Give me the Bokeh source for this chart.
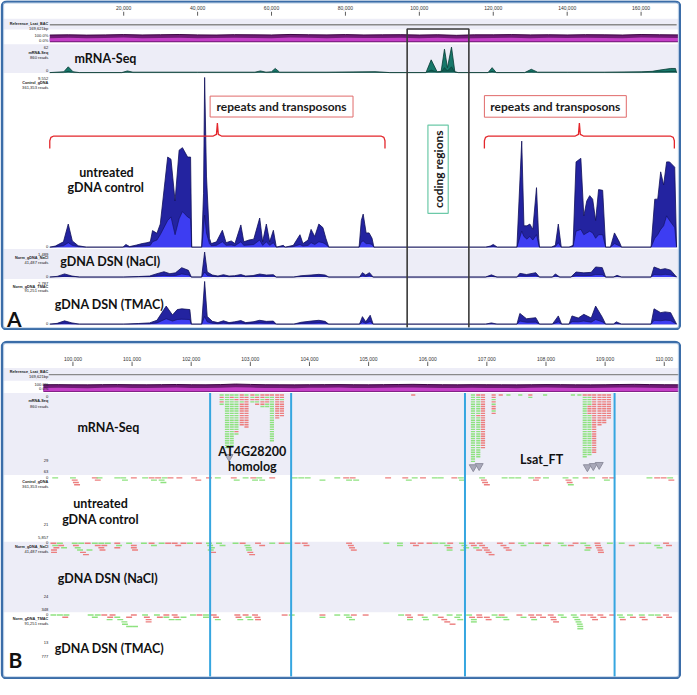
import math
from bokeh.plotting import figure
from bokeh.models import Range1d
from bokeh.layouts import column
from bokeh.embed import file_html
from bokeh.resources import INLINE
from bokeh.core.properties import value

# ======================= DATA =======================
# ---- Panel A : whole BAC, positions in kb ----
bac_length_kb = 169.621
A_tick_kb = [20, 40, 60, 80, 100, 120, 140, 160]
A_tick_labels = ["20,000", "40,000", "60,000", "80,000", "100,000", "120,000", "140,000", "160,000"]

purpleA_kb = [0, 5, 10, 15, 20, 25, 30, 35, 40, 45, 50, 55, 60, 65, 70, 75, 80, 85,
              90, 95, 100, 105, 110, 115, 120, 125, 130, 135, 140, 145, 150, 155, 160, 165, 170]
purpleA_top = [97, 100, 96, 99, 103, 98, 101, 104, 99, 97, 102, 100, 98, 105, 101, 99, 103, 98,
               100, 102, 97, 101, 93, 100, 100, 103, 99, 101, 98, 102, 100, 97, 104, 101, 99]
purpleA_mid = [55, 60, 52, 58, 62, 55, 57, 61, 54, 56, 60, 58, 53, 63, 59, 55, 61, 57,
               58, 60, 54, 59, 50, 52, 58, 61, 55, 59, 56, 60, 58, 54, 62, 59, 57]

# (kb, total coverage, inner coverage)
mrnaA = [(0, 0, 0), (3.8, 2, 0), (5.0, 14, 3), (6.3, 2, 0), (8, 0, 0), (19.5, 0, 0), (21, 4, 1),
         (22.5, 1, 0), (40, 1, 0), (55.5, 1, 0), (57, 4, 1), (58.5, 1, 0), (60, 2, 0), (61, 10, 2),
         (62.2, 1, 0), (75, 1, 0), (88, 2, 1), (92, 0, 0), (101.8, 0, 0), (103.2, 31, 6),
         (104.8, 2, 1), (105.9, 3, 1), (106.8, 57, 12), (107.6, 12, 4), (108.7, 62, 14),
         (109.6, 2, 1), (110.5, 0, 0), (118.6, 0, 0), (119.7, 12, 3), (120.8, 0, 0), (128.5, 0, 0),
         (130.3, 8, 2), (132, 1, 0), (140, 1, 0), (150, 1, 0), (160, 2, 0), (163, 3, 1),
         (165, 6, 2), (166.5, 8, 2), (168, 10, 3), (169.3, 10, 3), (169.6, 0, 0)]

ctrlA = [(0, 0, 0), (1.5, 60, 20), (3.7, 300, 80), (5.0, 1300, 250), (6.1, 350, 100), (7.7, 80, 30),
         (9.9, 0, 0), (19.8, 0, 0), (20.6, 150, 40), (21.6, 30, 10), (23.5, 120, 40), (25.0, 200, 60),
         (26.3, 250, 80), (27.2, 300, 100), (27.8, 930, 300), (29.0, 780, 400), (29.9, 1300, 700),
         (31.9, 5070, 1500), (32.8, 4950, 1700), (33.9, 2600, 700), (35.0, 5460, 1600),
         (35.9, 5600, 2000), (37.3, 5070, 1700), (38.1, 5070, 1600), (38.4, 0, 0), (41.1, 0, 0),
         (41.6, 3000, 1000), (41.9, 9552, 1800), (42.4, 4000, 800), (43.2, 500, 200), (43.7, 200, 80),
         (45.1, 300, 100), (46.7, 950, 300), (47.7, 250, 100), (49.1, 350, 120), (50.1, 200, 80),
         (51.7, 1250, 300), (52.5, 300, 100), (53.9, 400, 120), (55.2, 450, 150), (56.8, 1640, 400),
         (57.6, 300, 100), (58.6, 1300, 300), (59.5, 300, 100), (60.5, 950, 250), (61.3, 0, 0),
         (63.2, 100, 30), (63.7, 0, 0), (65.9, 100, 30), (67.7, 700, 150), (68.5, 200, 60),
         (69.9, 400, 100), (70.7, 1000, 250), (71.7, 600, 150), (72.8, 1300, 300), (73.9, 1100, 250),
         (74.7, 500, 150), (75.5, 0, 0), (83.7, 0, 0), (84.3, 1500, 300), (84.8, 1860, 350),
         (85.6, 800, 200), (86.4, 800, 200), (87.2, 500, 150), (87.7, 0, 0), (117.9, 0, 0),
         (119.2, 60, 20), (120.0, 150, 40), (121.1, 0, 0), (126.4, 0, 0), (127.7, 5970, 900),
         (128.3, 1200, 600), (129.1, 1200, 450), (129.9, 1300, 600), (130.7, 1000, 400),
         (131.7, 3350, 700), (132.3, 500, 150), (132.5, 0, 0), (135.7, 0, 0), (136.8, 100, 30),
         (137.6, 1300, 250), (138.4, 0, 0), (140.5, 0, 0), (141.6, 100, 40), (142.4, 4800, 900),
         (143.7, 5000, 1000), (144.5, 1760, 700), (145.3, 2600, 800), (146.1, 2900, 900),
         (146.9, 2700, 800), (147.7, 1500, 500), (148.5, 3240, 700), (149.6, 3200, 700),
         (150.4, 0, 0), (151.7, 0, 0), (152.8, 800, 200), (154.1, 300, 80), (154.7, 0, 0),
         (162.7, 0, 0), (163.7, 2700, 500), (164.5, 2700, 700), (165.3, 4240, 1000),
         (166.1, 3500, 1200), (166.9, 4800, 1760), (167.7, 4800, 1500), (169.1, 4500, 1100),
         (169.6, 0, 0)]

naclA = [(0, 0, 0), (2.0, 40, 10), (4.0, 186, 40), (6.0, 60, 20), (8.0, 0, 0), (20, 0, 0), (24, 30, 10),
         (27, 60, 20), (29, 200, 60), (30.9, 316, 100), (32.5, 200, 80), (34, 250, 90), (35.7, 558, 180),
         (37.5, 400, 130), (38.3, 0, 0), (41.1, 0, 0), (41.9, 1489, 300), (42.6, 300, 100),
         (44, 120, 40), (45.5, 60, 20), (47, 140, 50), (48.5, 60, 20), (50, 80, 30), (51.7, 150, 50),
         (53, 60, 20), (55, 90, 30), (56.8, 180, 60), (58.6, 120, 40), (60.5, 140, 50), (61.3, 0, 0),
         (66, 0, 0), (68, 80, 25), (70.7, 120, 40), (72.8, 160, 50), (74.5, 120, 40), (75.5, 0, 0),
         (83.8, 0, 0), (84.6, 260, 80), (85.5, 120, 40), (86.5, 260, 80), (87.5, 0, 0), (117.9, 0, 0),
         (119.5, 130, 40), (121, 0, 0), (126.4, 0, 0), (127.2, 220, 70), (129, 150, 50),
         (131.5, 260, 80), (132.5, 0, 0), (136, 0, 0), (136.8, 186, 60), (138, 0, 0), (141, 0, 0),
         (142.4, 300, 90), (144.5, 250, 80), (146.5, 280, 90), (147.7, 600, 150), (149.5, 560, 140),
         (150.4, 0, 0), (152.5, 0, 0), (153.5, 100, 30), (154.7, 0, 0), (162.7, 0, 0),
         (163.5, 600, 150), (165.3, 446, 130), (166.5, 500, 160), (168.0, 410, 130), (169.6, 0, 0)]

tmacA = [(0, 0, 0), (2.0, 50, 15), (4.0, 214, 60), (6.0, 80, 25), (8.0, 0, 0), (20, 0, 0), (24, 40, 10),
         (27, 80, 25), (29, 250, 80), (31.5, 1180, 350), (33.2, 600, 200), (34.5, 950, 300),
         (35.7, 1000, 320), (37.9, 950, 300), (38.3, 0, 0), (41.1, 0, 0), (41.9, 2787, 500),
         (42.6, 500, 150), (44, 180, 60), (45.5, 100, 30), (47, 220, 70), (48.5, 100, 30),
         (50, 150, 50), (51.7, 230, 70), (53, 100, 30), (55, 150, 50), (56.8, 250, 80),
         (58.6, 180, 60), (60.5, 200, 60), (61.3, 0, 0), (66, 0, 0), (68, 120, 40), (70.7, 200, 60),
         (72.8, 250, 80), (74.5, 180, 60), (75.5, 0, 0), (83.8, 0, 0), (84.6, 490, 150),
         (85.5, 150, 50), (86.7, 580, 170), (87.5, 0, 0), (117.9, 0, 0), (119.5, 80, 25), (121, 0, 0),
         (126.4, 0, 0), (127.2, 700, 200), (129, 350, 120), (131.5, 420, 130), (132.5, 0, 0),
         (136, 0, 0), (137.6, 535, 150), (138.5, 0, 0), (140.5, 0, 0), (141.3, 535, 160),
         (143, 400, 150), (144.5, 640, 200), (146.5, 400, 130), (147.7, 1180, 300), (149.5, 450, 150),
         (150.4, 0, 0), (152.5, 0, 0), (153.3, 150, 40), (154.7, 0, 0), (162.7, 0, 0),
         (163.5, 1000, 250), (165.3, 750, 220), (166.5, 800, 260), (168.0, 750, 230), (169.6, 0, 0)]

repeat_regions_kb = [(0.0, 90.7), (117.6, 169.0)]
coding_region_kb = (96.7, 113.4)

# ---- Panel B : zoom 99.6 - 110.2 kb, positions in bp ----
B_tick_bp = [100000, 101000, 102000, 103000, 104000, 105000, 106000, 107000, 108000, 109000, 110000]
B_tick_labels = ["100,000", "101,000", "102,000", "103,000", "104,000", "105,000",
                 "106,000", "107,000", "108,000", "109,000", "110,000"]

purpleB_bp = [99500 + 250 * i for i in range(45)]
purpleB_top = [99, 100, 98, 97, 100, 101, 99, 98, 100, 102, 99, 98, 101, 108, 103, 99, 98, 97, 99, 100,
               101, 99, 98, 100, 102, 104, 101, 99, 98, 100, 99, 98, 97, 99, 101, 100, 98, 97, 99, 102,
               104, 101, 99, 98, 100]
purpleB_mid = [55, 58, 54, 52, 57, 60, 56, 53, 58, 61, 55, 54, 59, 66, 60, 56, 53, 52, 57, 58,
               60, 55, 54, 58, 61, 63, 59, 55, 53, 58, 56, 54, 52, 57, 60, 58, 54, 53, 57, 61,
               63, 59, 56, 54, 57]

gene_bounds_bp = [102320, 103690, 106630, 109160]

# mRNA-Seq read stacks: (start bp, strand of each row top->bottom)
mrna_stacks = [
    (102480, "grgrg"), (102570, "gggggggggggggggggggggggg"), (102650, "grggggggggggggggggggggg"),
    (102730, "ggrgggggggggggggrg"), (102820, "rrrgrrrrrrrrrr"), (102900, "grrrrrrrrrrrrrr"),
    (103000, "rgrg"), (103080, "grrgr"), (103170, "rrgrrg"), (103250, "rgrrgg"),
    (103330, "rgggggggggggggggggggg"), (103420, "rrrrrrrrrrr"), (103500, "rrgrrrrrrr"),
    (105720, "r"),
    (106730, "gggggggggggggggggggggggggggggg"), (106820, "rggggggggrgggggggggggggggggg"),
    (106900, "rrrrrrrrrrrrrrrrrrrrrrrr"), (107080, "rrgrgrrgr"), (107200, "r"), (107330, "g"),
    (107530, "g"), (107700, "rg"), (107950, "g"), (108420, "g"), (108530, "g"),
    (108620, "rggggggggggggggggggggggggggg"), (108700, "rggggrrrrgggggggggggggggggg"),
    (108780, "rrrrrrrrrrrrrrrrrrrrrrrrrr"), (108870, "rrrrrrrrrrrrrr"), (108950, "rrrrrrrrrrrrr"),
    (109030, "rrrrrrrrrrr")]
mrna_arrows = [(102640, 27), (106770, 31.5), (106870, 31), (108700, 31.5), (108800, 31), (108900, 30.5)]

# gDNA reads: (start bp, row, strand)
ctrlB_reads = [
    (99650, 0, "g"), (99950, 0, "g"), (99980, 1, "r"), (100000, 2, "r"), (100020, 3, "r"),
    (100320, 0, "r"), (100400, 0, "g"), (100370, 1, "r"), (100700, 0, "g"), (100800, 0, "g"),
    (100830, 1, "g"), (100980, 0, "r"), (101170, 0, "g"), (101280, 0, "r"), (101320, 1, "g"),
    (101390, 0, "r"), (101500, 0, "g"), (101450, 1, "g"), (101480, 2, "g"), (101600, 0, "r"),
    (101750, 0, "r"), (102000, 0, "r"), (102070, 1, "r"), (102250, 0, "r"), (102400, 0, "g"),
    (102670, 0, "r"), (102720, 1, "g"), (102870, 0, "g"), (103000, 0, "r"), (103030, 1, "g"),
    (103100, 0, "g"), (103150, 1, "g"), (103320, 0, "r"), (103700, 0, "g"), (103810, 0, "g"),
    (103920, 0, "g"), (104170, 1, "g"), (104420, 0, "g"), (104570, 0, "r"), (104620, 1, "g"),
    (104680, 0, "r"), (104740, 1, "g"), (105280, 0, "r"), (105570, 0, "r"), (105630, 1, "g"),
    (105730, 0, "g"), (105870, 0, "r"), (106070, 0, "g"), (106170, 0, "g"), (106400, 0, "r"),
    (106510, 0, "g"), (106530, 1, "g"), (106870, 0, "g"), (106900, 1, "r"), (106920, 2, "r"),
    (106950, 3, "r"), (107250, 0, "g"), (107370, 0, "g"), (107480, 0, "g"), (107700, 0, "g"),
    (107810, 0, "r"), (107780, 1, "r"), (107950, 0, "g"), (108280, 0, "g"), (108330, 1, "r"),
    (108350, 2, "r"), (108370, 3, "g"), (108450, 0, "g"), (108620, 0, "r"), (108730, 0, "g"),
    (108950, 0, "r"), (109070, 0, "r"), (108980, 1, "g"), (109700, 0, "g"), (109830, 0, "r"),
    (109940, 0, "r"), (110050, 0, "g"), (110070, 1, "r")]

naclB_reads = [
    (99620, 0, "r"), (99650, 1, "g"), (99670, 2, "r"), (99630, 3, "r"), (99630, 4, "r"),
    (99730, 0, "g"), (99750, 1, "r"), (99800, 2, "g"), (99980, 0, "g"), (100000, 1, "r"),
    (100030, 2, "g"), (100090, 0, "g"), (100070, 3, "g"), (100120, 4, "r"), (100170, 5, "r"),
    (100230, 3, "g"), (100200, 0, "r"), (100320, 0, "g"), (100370, 1, "r"), (100430, 0, "g"),
    (100480, 1, "r"), (100430, 2, "r"), (100450, 3, "r"), (100540, 0, "g"), (100700, 0, "r"),
    (100730, 1, "g"), (100700, 2, "r"), (100900, 0, "g"), (100980, 1, "r"), (100980, 2, "r"),
    (101000, 3, "r"), (101150, 0, "g"), (101280, 0, "r"), (101320, 1, "g"), (101450, 0, "g"),
    (101560, 0, "r"), (101670, 0, "r"), (101730, 1, "r"), (101820, 0, "r"), (101930, 0, "g"),
    (102080, 0, "r"), (102250, 0, "g"), (102270, 1, "g"), (102300, 2, "g"), (102280, 3, "g"),
    (102320, 4, "r"), (102420, 0, "g"), (102480, 1, "g"), (102700, 0, "g"), (102820, 0, "r"),
    (102900, 1, "g"), (102920, 2, "g"), (102930, 3, "g"), (102950, 4, "r"), (102980, 5, "r"),
    (103080, 0, "r"), (103150, 1, "r"), (103320, 0, "g"), (103480, 0, "r"), (103580, 0, "g"),
    (103750, 0, "r"), (103870, 0, "r"), (103900, 1, "r"), (104620, 0, "r"), (104650, 1, "r"),
    (104670, 2, "r"), (104700, 3, "r"), (105250, 0, "g"), (105480, 0, "g"), (105480, 1, "g"),
    (105700, 0, "r"), (105750, 1, "r"), (105830, 0, "r"), (105980, 0, "r"), (106080, 0, "g"),
    (106200, 0, "g"), (106280, 1, "g"), (106320, 2, "r"), (106320, 3, "g"), (106330, 0, "r"),
    (106530, 0, "g"), (106570, 1, "g"), (106600, 2, "g"), (106550, 3, "g"), (106700, 0, "r"),
    (106730, 1, "r"), (106770, 2, "g"), (106820, 3, "r"), (106830, 0, "r"), (106870, 1, "r"),
    (106920, 2, "r"), (106950, 3, "r"), (106980, 4, "r"), (107030, 5, "r"), (107170, 0, "r"),
    (107230, 1, "r"), (107280, 2, "r"), (107320, 3, "r"), (107370, 0, "r"), (107530, 0, "g"),
    (107570, 1, "g"), (107700, 0, "g"), (107820, 0, "r"), (107980, 0, "r"), (107950, 1, "g"),
    (108200, 0, "g"), (108250, 1, "g"), (108370, 1, "r"), (108450, 0, "r"), (108580, 0, "g"),
    (108650, 1, "g"), (108670, 2, "r"), (108650, 3, "g"), (108820, 0, "r"), (108830, 1, "r"),
    (108850, 2, "r"), (108870, 3, "r"), (108880, 4, "r"), (109030, 0, "g"), (109230, 0, "g"),
    (109400, 1, "r"), (109570, 0, "g"), (109680, 0, "g"), (109830, 1, "g"), (109870, 2, "g"),
    (109980, 0, "r"), (110030, 1, "r")]

tmacB_reads = [
    (99620, 0, "g"), (99730, 0, "g"), (99840, 0, "g"), (99820, 1, "r"), (100250, 0, "g"),
    (100320, 1, "g"), (100370, 0, "g"), (100480, 0, "r"), (100580, 1, "r"), (100570, 2, "g"),
    (100620, 0, "r"), (100700, 1, "g"), (100750, 2, "g"), (100820, 3, "g"), (100830, 4, "g"),
    (100900, 5, "g"), (101000, 5, "g"), (100900, 1, "r"), (100980, 0, "r"), (101170, 0, "g"),
    (101200, 1, "r"), (101230, 2, "r"), (101230, 3, "r"), (101370, 0, "g"), (101420, 1, "r"),
    (101530, 0, "r"), (101530, 1, "g"), (101620, 2, "g"), (101670, 0, "r"), (101700, 1, "r"),
    (101730, 2, "g"), (101820, 1, "g"), (101980, 0, "g"), (102090, 0, "r"), (102200, 0, "g"),
    (102200, 1, "g"), (102330, 0, "r"), (102370, 1, "r"), (102400, 2, "g"), (102730, 0, "r"),
    (102750, 1, "r"), (102780, 2, "g"), (102870, 0, "r"), (102920, 1, "g"), (102950, 2, "g"),
    (103030, 0, "r"), (103070, 1, "r"), (103080, 2, "r"), (103530, 0, "r"), (103650, 0, "g"),
    (104170, 0, "r"), (104170, 1, "g"), (104420, 0, "g"), (104580, 0, "g"), (104620, 1, "g"),
    (104700, 0, "r"), (104670, 2, "g"), (104900, 0, "r"), (105500, 0, "g"), (105620, 0, "r"),
    (105650, 1, "r"), (105650, 2, "g"), (105830, 0, "r"), (105900, 1, "g"), (105920, 2, "g"),
    (106080, 0, "g"), (106170, 1, "r"), (106230, 2, "r"), (106280, 3, "r"), (106320, 0, "g"),
    (106370, 4, "r"), (106480, 0, "g"), (106450, 1, "g"), (106500, 2, "g"), (106650, 0, "g"),
    (106700, 1, "r"), (106730, 2, "g"), (106730, 3, "g"), (106820, 0, "r"), (106830, 1, "r"),
    (106950, 1, "r"), (106980, 2, "r"), (107080, 0, "g"), (107150, 1, "g"), (107200, 0, "r"),
    (107250, 1, "g"), (107280, 2, "g"), (107500, 0, "r"), (107570, 1, "g"), (107700, 0, "r"),
    (107730, 1, "r"), (107750, 2, "g"), (107830, 0, "r"), (107900, 1, "r"), (108030, 0, "r"),
    (108070, 1, "r"), (108080, 2, "r"), (108120, 3, "r"), (108200, 0, "g"), (108250, 1, "g"),
    (108420, 0, "g"), (108450, 1, "g"), (108480, 2, "g"), (108500, 3, "g"), (108520, 4, "g"),
    (108530, 5, "g"), (108530, 6, "g"), (108580, 0, "r"), (108700, 0, "r"), (108750, 1, "r"),
    (108780, 2, "r"), (108870, 0, "r"), (108920, 1, "r"), (109070, 0, "r"), (109200, 0, "g"),
    (109230, 1, "g"), (109250, 2, "r"), (109370, 0, "g"), (109420, 1, "r"), (109570, 0, "g"),
    (109580, 1, "r"), (109620, 2, "r"), (109730, 0, "g"), (109840, 0, "g"), (109870, 1, "r"),
    (109980, 0, "r"), (110030, 1, "r")]

# ======================= STYLE / LAYOUT =======================
W = 681
HA = 330
HB = 339
LAV = "#ededf7"
SMALL = value("Liberation Sans")
BIG = value("Lato")
READ_COL = {"g": "#8ee27f", "r": "#ec7e7e"}
GDNA_READ_LEN = 100
MRNA_READ_LEN = 70


def base_fig(h, xr, yr):
    p = figure(width=W, height=h, x_range=xr, y_range=yr, output_backend="svg",
               toolbar_location=None, x_axis_type=None, y_axis_type=None, min_border=0)
    p.min_border_left = p.min_border_right = p.min_border_top = p.min_border_bottom = 0
    p.outline_line_color = None
    p.background_fill_color = "white"
    p.border_fill_color = "white"
    p.extra_x_ranges = {"px": Range1d(4, 695)}
    return p


def cov_range(yb, yt, vmax, ybot, ytop):
    k = vmax / (yb - yt)
    return Range1d(start=(yb - ybot) * k, end=(yb - ytop) * k)


def row_range(y0, dh, ybot, ytop):
    return Range1d(start=(ybot - y0) / dh, end=(ytop - y0) / dh)


def txt(p, xs, ys, texts, size, align="right", bold=False, font=SMALL, color="#222222",
        angle=0.0, xr="px"):
    kw = dict(x=xs, y=ys, text=texts, text_font=font, text_font_size=size,
              text_align=align, text_baseline="middle",
              text_font_style="bold" if bold else "normal", text_color=color, angle=angle)
    if xr is not None:
        kw["x_range_name"] = xr
    p.text(**kw)


def cov(p, data, rname, outer, inner, edge):
    xs = [d[0] for d in data]
    tot = [d[1] for d in data]
    inn = [d[2] for d in data]
    p.varea(x=xs, y1=0, y2=tot, y_range_name=rname, fill_color=outer)
    p.varea(x=xs, y1=0, y2=inn, y_range_name=rname, fill_color=inner)
    p.line(xs, tot, y_range_name=rname, line_color=edge, line_width=0.8)
    p.line(xs, inn, y_range_name=rname, line_color=edge, line_width=0.6)


def purple(p, xs, top, mid, rname):
    n = min(len(xs), len(top), len(mid))
    xs, top, mid = xs[:n], top[:n], mid[:n]
    p.varea(x=xs, y1=0, y2=top, y_range_name=rname, fill_color="#6f1a75")
    p.varea(x=xs, y1=[12] * n, y2=mid, y_range_name=rname, fill_color="#c43fc6")
    p.line(xs, top, y_range_name=rname, line_color="#3c0842", line_width=1)


def border(p, top, bottom):
    kw = dict(left=[5.5], right=[693.5], top=[top], bottom=[bottom], x_range_name="px",
              fill_color=None, line_color="#3b6da8", line_width=2.6)
    try:
        p.quad(border_radius=5, **kw)
    except Exception:
        p.quad(**kw)
    kw2 = dict(left=[7.2], right=[691.8], top=[top + 1.7], bottom=[bottom - 1.7], x_range_name="px",
               fill_color=None, line_color="#b6cbe6", line_width=0.8)
    p.quad(**kw2)


def reads(p, rlist, rname, length):
    p.hbar(y=[r[1] for r in rlist], left=[r[0] for r in rlist],
           right=[r[0] + length for r in rlist], height=0.62,
           fill_color=[READ_COL[r[2]] for r in rlist], line_color=None, y_range_name=rname)


def left_labels(p, items):
    for bold in (True, False):
        sel = [a for a in items if a[2] == bold]
        txt(p, [52.5] * len(sel), [a[1] for a in sel], [a[0] for a in sel],
            "3.8px" if bold else "4.1px", bold=bold)


# ======================= PANEL A =======================
A_BOT, A_TOP = 338.5, 2.0
xA = Range1d((4 - 54) / 3.75, (695 - 54) / 3.75)
pA = base_fig(HA, xA, Range1d(A_BOT, A_TOP))
pA.extra_y_ranges = {
    "pur": cov_range(44.5, 37.0, 100, A_BOT, A_TOP),
    "mrna": cov_range(75.5, 49.5, 62, A_BOT, A_TOP),
    "ctrl": cov_range(253.5, 80.5, 9552, A_BOT, A_TOP),
    "nacl": cov_range(284.0, 258.5, 1489, A_BOT, A_TOP),
    "tmac": cov_range(332.0, 288.5, 2787, A_BOT, A_TOP),
}
# lavender bands
pA.quad(left=[5, 5, 5], right=[694, 694, 694], top=[20.5, 46.5, 255.5], bottom=[31.5, 76.0, 286.0],
        x_range_name="px", fill_color=LAV, line_color=None)
# ruler
txt(pA, A_tick_kb, [9.5] * len(A_tick_kb), A_tick_labels, "5px", align="center", xr=None,
    color="#333333")
pA.segment(x0=A_tick_kb, y0=[13.5] * 8, x1=A_tick_kb, y1=[17.5] * 8, line_color="#333333",
           line_width=0.8)
pA.line([0, bac_length_kb], [26.8, 26.8], line_color="#8a8a8a", line_width=1.4)
# coverage tracks
purple(pA, purpleA_kb, purpleA_top, purpleA_mid, "pur")
cov(pA, mrnaA, "mrna", "#17776a", "#0f5a50", "#073b33")
cov(pA, ctrlA, "ctrl", "#2323a0", "#3d3df2", "#11115a")
cov(pA, naclA, "nacl", "#2323a0", "#3d3df2", "#11115a")
cov(pA, tmacA, "tmac", "#2323a0", "#3d3df2", "#11115a")
# left track labels
A_left = [("Reference_Lsat_BAC", 25.7, True), ("169,621bp", 30.5, False), ("100.0%", 37.5, False),
          ("0.0%", 42.5, False), ("62", 50.0, False), ("mRNA-Seq", 55.5, True),
          ("860 reads", 60.5, False), ("0", 73.5, False), ("9,552", 81.5, False),
          ("Control_gDNA", 86.0, True), ("361,353 reads", 90.5, False), ("0", 253.0, False),
          ("1,489", 261.0, False), ("Norm_gDNA_NaCl", 265.0, True), ("41,487 reads", 268.8, False),
          ("0", 283.0, False), ("2,787", 290.5, False), ("Norm_gDNA_TMAC", 294.0, True),
          ("91,251 reads", 297.8, False), ("0", 331.0, False)]
left_labels(pA, A_left)

# coding region box
pA.quad(left=[coding_region_kb[0]], right=[coding_region_kb[1]], top=[31.0], bottom=[337.0],
        fill_color=None, line_color="#3a3a3a", line_width=1.6)
pA.quad(left=[437.7], right=[458.3], top=[129.0], bottom=[219.0], x_range_name="px",
        fill_color="white", line_color="#6cc9a8", line_width=1.2)
txt(pA, [448.3], [174.0], ["coding regions"], "12px", align="center", bold=True, font=BIG,
    color="#1a1a1a", angle=math.pi / 2)

# braces + text boxes for repeats
for (s, e) in repeat_regions_kb:
    m = (s + e) / 2
    d = 1.1
    bx = [s, s, s + 0.3, s + d, m - d, m - 0.25, m, m + 0.25, m + d, e - d, e - 0.3, e, e]
    by = [153.0, 145.0, 141.6, 140.2, 140.2, 138.5, 127.0, 138.5, 140.2, 140.2, 141.6, 145.0, 153.0]
    pA.line(bx, by, line_color="#e3262b", line_width=1.3)
pA.quad(left=[216.7, 495.0], right=[361.7, 639.0], top=[99.5, 99.0], bottom=[120.8, 121.0],
        x_range_name="px", fill_color="white", line_color="#e06a6a", line_width=1.0)
txt(pA, [289.2, 567.0], [110.3, 110.0], ["repeats and transposons"] * 2, "12px", align="center",
    bold=True, font=BIG, color="#1a1a1a")

# big labels
txt(pA, [110.5, 111.5, 111.0, 115.5, 114.5],
    [61.5, 177.5, 193.0, 268.5, 312.0],
    ["mRNA-Seq", "untreated", "gDNA control", "gDNA DSN (NaCl)", "gDNA DSN (TMAC)"],
    "12.5px", align="center", bold=True, font=BIG, color="#111111")
txt(pA, [10.5], [326.0], ["A"], "21px", align="left", bold=True, font=BIG, color="#111111")
border(pA, 3.0, 337.3)

# ======================= PANEL B =======================
B_BOT, B_TOP = 693.5, 348.0
xB = Range1d(100000 + (4 - 77.5) * 1000 / 60.0, 100000 + (695 - 77.5) * 1000 / 60.0)
pB = base_fig(HB, xB, Range1d(B_BOT, B_TOP))
DH = 2.33
pB.extra_y_ranges = {
    "pur": cov_range(400.5, 393.0, 100, B_BOT, B_TOP),
    "mrow": row_range(403.6, DH, B_BOT, B_TOP),
    "crow": row_range(488.0, DH, B_BOT, B_TOP),
    "nrow": row_range(554.6, DH, B_BOT, B_TOP),
    "trow": row_range(627.8, DH, B_BOT, B_TOP),
}
pB.quad(left=[5, 5, 5], right=[694, 694, 694], top=[376.0, 401.5, 553.0],
        bottom=[389.0, 485.0, 625.0], x_range_name="px", fill_color=LAV, line_color=None)
txt(pB, B_tick_bp, [366.8] * len(B_tick_bp), B_tick_labels, "5px", align="center", xr=None,
    color="#333333")
pB.segment(x0=B_tick_bp, y0=[370.0] * 11, x1=B_tick_bp, y1=[374.0] * 11, line_color="#333333",
           line_width=0.8)
pB.line([xB.start + 49 * 1000 / 60.0, xB.end], [382.8, 382.8], line_color="#8a8a8a", line_width=1.4)
purple(pB, purpleB_bp, purpleB_top, purpleB_mid, "pur")

# mRNA reads
mreads = []
for (start, strands) in mrna_stacks:
    for i, s in enumerate(strands):
        mreads.append((start, i, s))
reads(pB, mreads, "mrow", MRNA_READ_LEN)
pB.scatter(x=[a[0] for a in mrna_arrows], y=[a[1] for a in mrna_arrows], y_range_name="mrow",
           marker="inverted_triangle", size=8, fill_color="#a9a9b9", line_color="#9090a0")
reads(pB, ctrlB_reads, "crow", GDNA_READ_LEN)
reads(pB, naclB_reads, "nrow", GDNA_READ_LEN)
reads(pB, tmacB_reads, "trow", GDNA_READ_LEN)

B_left = [("Reference_Lsat_BAC", 380.0, True), ("169,621bp", 385.0, False), ("100.0%", 392.5, False),
          ("0.0%", 396.8, False), ("0", 405.0, False), ("mRNA-Seq", 410.0, True),
          ("860 reads", 415.5, False), ("29", 470.0, False), ("63", 481.7, False),
          ("0", 487.7, False), ("Control_gDNA", 492.7, True), ("361,353 reads", 496.5, False),
          ("21", 536.0, False), ("5,857", 548.3, False), ("0", 554.3, False),
          ("Norm_gDNA_NaCl", 558.5, True), ("41,487 reads", 562.7, False), ("24", 609.3, False),
          ("348", 621.7, False), ("0", 627.7, False), ("Norm_gDNA_TMAC", 631.7, True),
          ("91,251 reads", 636.0, False), ("13", 656.0, False), ("777", 670.0, False)]
left_labels(pB, B_left)

pB.segment(x0=gene_bounds_bp, y0=[401.5] * 4, x1=gene_bounds_bp, y1=[692.0] * 4,
           line_color="#36a6e0", line_width=2.0)

txt(pB, [113.5, 259.5, 259.5, 553.0, 105.5, 105.5, 113.0, 114.5],
    [437.0, 461.5, 476.5, 469.0, 514.0, 530.0, 590.5, 661.5],
    ["mRNA-Seq", "AT4G28200", "homolog", "Lsat_FT", "untreated", "gDNA control",
     "gDNA DSN (NaCl)", "gDNA DSN (TMAC)"],
    "12.5px", align="center", bold=True, font=BIG, color="#111111")
txt(pB, [12.0], [673.5], ["B"], "21px", align="left", bold=True, font=BIG, color="#111111")
border(pB, 349.5, 692.3)

layout = column(pA, pB, spacing=10)
open("out.html", "w").write(file_html(layout, INLINE))
